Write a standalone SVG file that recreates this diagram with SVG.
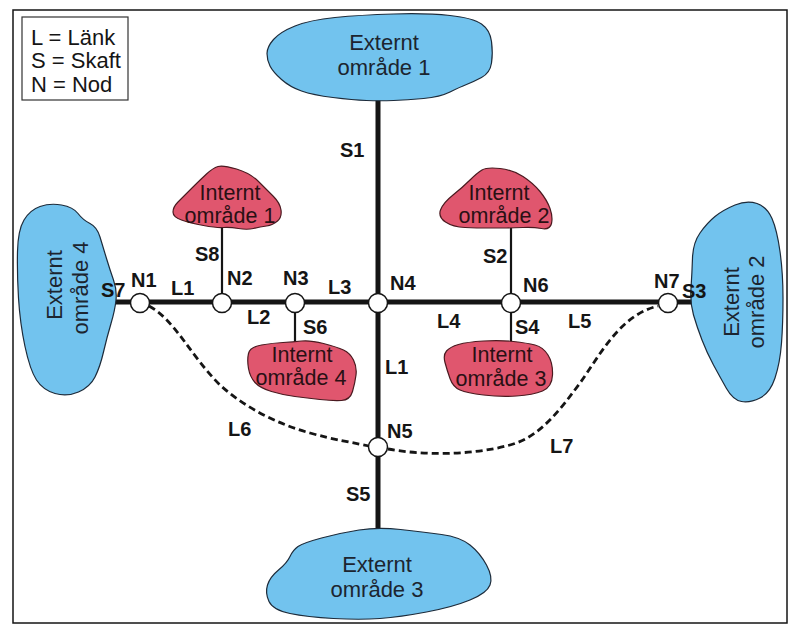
<svg xmlns="http://www.w3.org/2000/svg" width="802" height="637" viewBox="0 0 802 637">
<style>
.ext{fill:#72C3EE;stroke:#1d2b3a;stroke-width:1.2}
.int{fill:#E0566E;stroke:#4a1a20;stroke-width:1.2}
.rt{font-family:"Liberation Sans",Arial,sans-serif;font-size:22px;text-anchor:middle;fill:#1c2530}
.it{font-family:"Liberation Sans",Arial,sans-serif;font-size:21.5px;text-anchor:middle;fill:#2a1014}
.lb{font-family:"Liberation Sans",Arial,sans-serif;font-size:20px;font-weight:bold;fill:#151515}
.lg{font-family:"Liberation Sans",Arial,sans-serif;font-size:22px;fill:#151515}
.main{stroke:#151515;stroke-width:5;fill:none}
.stem{stroke:#151515;stroke-width:2.2;fill:none}
.dash{stroke:#151515;stroke-width:2.8;fill:none;stroke-dasharray:7 4}
.node{fill:#fff;stroke:#151515;stroke-width:1.5}
</style>
<rect x="13" y="10" width="774" height="613" fill="#fff" stroke="#151515" stroke-width="1.5"/>
<g id="legend">
<rect x="22" y="17" width="106" height="83" fill="#fff" stroke="#333" stroke-width="1.2"/>
<text class="lg" x="31" y="45">L = Länk</text>
<text class="lg" x="31" y="68">S = Skaft</text>
<text class="lg" x="31" y="92">N = Nod</text>
</g>
<g id="connectors">
<line class="main" x1="114" y1="302" x2="692" y2="302"/>
<line class="main" x1="378" y1="100" x2="378" y2="528"/>
<line class="stem" x1="222" y1="226" x2="222" y2="302"/>
<line class="stem" x1="295" y1="302" x2="295" y2="343"/>
<line class="stem" x1="511" y1="228" x2="511" y2="302"/>
<line class="stem" x1="511" y1="302" x2="511" y2="342"/>
<path class="dash" d="M149,306 C175,320 190,355 220,385 C245,408 280,425 310,433 C335,440 355,443 369,446"/>
<path class="dash" d="M388,449 C420,455 470,456 510,445 C540,437 560,410 580,383 C600,355 620,315 658,306"/>
</g>
<g id="ext1">
<path class="ext" d="M267,53.5 Q267,47 273.5,39.5 Q280,32 295,26 Q310,20 335,17.5 Q360,15 393.5,14 Q427,13 450,15.5 Q473,18 481.5,24 Q490,30 491.5,41.5 Q493,53 491.5,63 Q490,73 481.5,77.5 Q473,82 466.5,84.5 Q460,87 450,92 Q440,97 423.5,98.5 Q407,100 393.5,100.5 Q380,101 366.5,100.5 Q353,100 333,97.5 Q313,95 301.5,91 Q290,87 281.5,79.5 Q273,72 270,66 Q267,60 267,53.5 Z"/>
<text class="rt" x="384" y="50">Externt</text>
<text class="rt" x="384" y="75">område 1</text>
</g>
<g id="ext2">
<path class="ext" d="M692.5,258 Q693,243 700,233 Q707,223 715,216.5 Q723,210 735,205 Q747,200 757,203.5 Q767,207 772,218.5 Q777,230 780,251.5 Q783,273 783,298 Q783,323 781.5,343 Q780,363 775,378 Q770,393 760,398 Q750,403 741.5,401.5 Q733,400 726.5,388.5 Q720,377 713.5,365 Q707,353 702,340 Q697,327 693.5,315 Q690,303 691,288 Q692,273 692.5,258 Z"/>
<text class="rt" transform="translate(739,302) rotate(-90)">Externt</text>
<text class="rt" transform="translate(764,302) rotate(-90)">område 2</text>
</g>
<g id="ext3">
<path class="ext" d="M359,530 Q378,527 400.5,529.5 Q423,532 441.5,534.5 Q460,537 470,545 Q480,553 486.5,565 Q493,577 490,585 Q487,593 470,600 Q453,607 426.5,612 Q400,617 380,618.5 Q360,620 333.5,618.5 Q307,617 290,613.5 Q273,610 269,601.5 Q265,593 267.5,585 Q270,577 278.5,570 Q287,563 290,556.5 Q293,550 298,546.5 Q303,543 321.5,538 Q340,533 359,530 Z"/>
<text class="rt" x="377" y="572">Externt</text>
<text class="rt" x="377" y="597">område 3</text>
</g>
<g id="ext4">
<path class="ext" d="M40,206.5 Q50,203 61.5,205 Q73,207 78,213.5 Q83,220 90,223.5 Q97,227 100,237 Q103,247 106.5,258.5 Q110,270 113.5,280 Q117,290 116,300 Q115,310 111,323.5 Q107,337 103.5,352 Q100,367 95,377 Q90,387 78.5,392 Q67,397 55,393.5 Q43,390 36.5,380 Q30,370 25,346.5 Q20,323 18.5,298 Q17,273 17.5,251.5 Q18,230 24,220 Q30,210 40,206.5 Z"/>
<text class="rt" transform="translate(62,285) rotate(-90)">Externt</text>
<text class="rt" transform="translate(88,288) rotate(-90)">område 4</text>
</g>
<g id="int1">
<path class="int" d="M218,166.5 Q223,165 236.5,169 Q250,173 258.5,181.5 Q267,190 273.5,196.5 Q280,203 281,210 Q282,217 277.5,221 Q273,225 266.5,226 Q260,227 253.5,228.5 Q247,230 238.5,228.5 Q230,227 223.5,227.5 Q217,228 203.5,225.5 Q190,223 181.5,220 Q173,217 173,212 Q173,207 178,202 Q183,197 191.5,188.5 Q200,180 206.5,174 Q213,168 218,166.5 Z"/>
<text class="it" x="230" y="200">Internt</text>
<text class="it" x="230" y="223">område 1</text>
</g>
<g id="int2">
<path class="int" d="M482,170 Q487,167 500,168.5 Q513,170 523,176.5 Q533,183 540,191.5 Q547,200 550,208.5 Q553,217 551.5,223.5 Q550,230 541.5,228.5 Q533,227 523,227.5 Q513,228 506.5,228 Q500,228 488.5,228 Q477,228 465,227.5 Q453,227 445.5,222 Q438,217 440.5,210 Q443,203 453,195 Q463,187 470,180 Q477,173 482,170 Z"/>
<text class="it" x="499" y="200">Internt</text>
<text class="it" x="504" y="223">område 2</text>
</g>
<g id="int3">
<path class="int" d="M446.5,351 Q450,347 458.5,344.5 Q467,342 483.5,341 Q500,340 513.5,341.5 Q527,343 535,345 Q543,347 548,355 Q553,363 552.5,375 Q552,387 542.5,391 Q533,395 516.5,396 Q500,397 483.5,395 Q467,393 460,390 Q453,387 450,378.5 Q447,370 445,362.5 Q443,355 446.5,351 Z"/>
<text class="it" x="502" y="362">Internt</text>
<text class="it" x="501" y="386">område 3</text>
</g>
<g id="int4">
<path class="int" d="M248.5,353.5 Q250,347 261.5,345 Q273,343 283,342.5 Q293,342 301.5,341 Q310,340 323.5,343.5 Q337,347 343.5,350 Q350,353 353.5,360 Q357,367 356,375 Q355,383 352.5,391.5 Q350,400 341.5,400.5 Q333,401 320,399.5 Q307,398 295,396.5 Q283,395 271.5,391.5 Q260,388 255,382.5 Q250,377 248.5,368.5 Q247,360 248.5,353.5 Z"/>
<text class="it" x="302" y="362">Internt</text>
<text class="it" x="301" y="385">område 4</text>
</g>
<g id="nodes">
<g id="N1"><circle class="node" cx="140" cy="303" r="9.5"/></g>
<g id="N2"><circle class="node" cx="222" cy="303" r="9.5"/></g>
<g id="N3"><circle class="node" cx="295" cy="303" r="9.5"/></g>
<g id="N4"><circle class="node" cx="378" cy="303" r="9.5"/></g>
<g id="N6"><circle class="node" cx="511" cy="303" r="9.5"/></g>
<g id="N7"><circle class="node" cx="668" cy="303" r="9.5"/></g>
<g id="N5"><circle class="node" cx="378" cy="447" r="9.5"/></g>
</g>
<g id="labels">
<text class="lb" x="340" y="157">S1</text>
<text class="lb" x="131" y="287">N1</text>
<text class="lb" x="101" y="297">S7</text>
<text class="lb" x="171" y="295">L1</text>
<text class="lb" x="227" y="285">N2</text>
<text class="lb" x="283" y="285">N3</text>
<text class="lb" x="247" y="324">L2</text>
<text class="lb" x="303" y="334">S6</text>
<text class="lb" x="195" y="261">S8</text>
<text class="lb" x="328" y="294">L3</text>
<text class="lb" x="390" y="290">N4</text>
<text class="lb" x="437" y="328">L4</text>
<text class="lb" x="385" y="374">L1</text>
<text class="lb" x="483" y="263">S2</text>
<text class="lb" x="523" y="292">N6</text>
<text class="lb" x="515" y="334">S4</text>
<text class="lb" x="568" y="328">L5</text>
<text class="lb" x="654" y="288">N7</text>
<text class="lb" x="682" y="298">S3</text>
<text class="lb" x="387" y="438">N5</text>
<text class="lb" x="346" y="501">S5</text>
<text class="lb" x="228" y="436">L6</text>
<text class="lb" x="550" y="453">L7</text>
</g>
</svg>
